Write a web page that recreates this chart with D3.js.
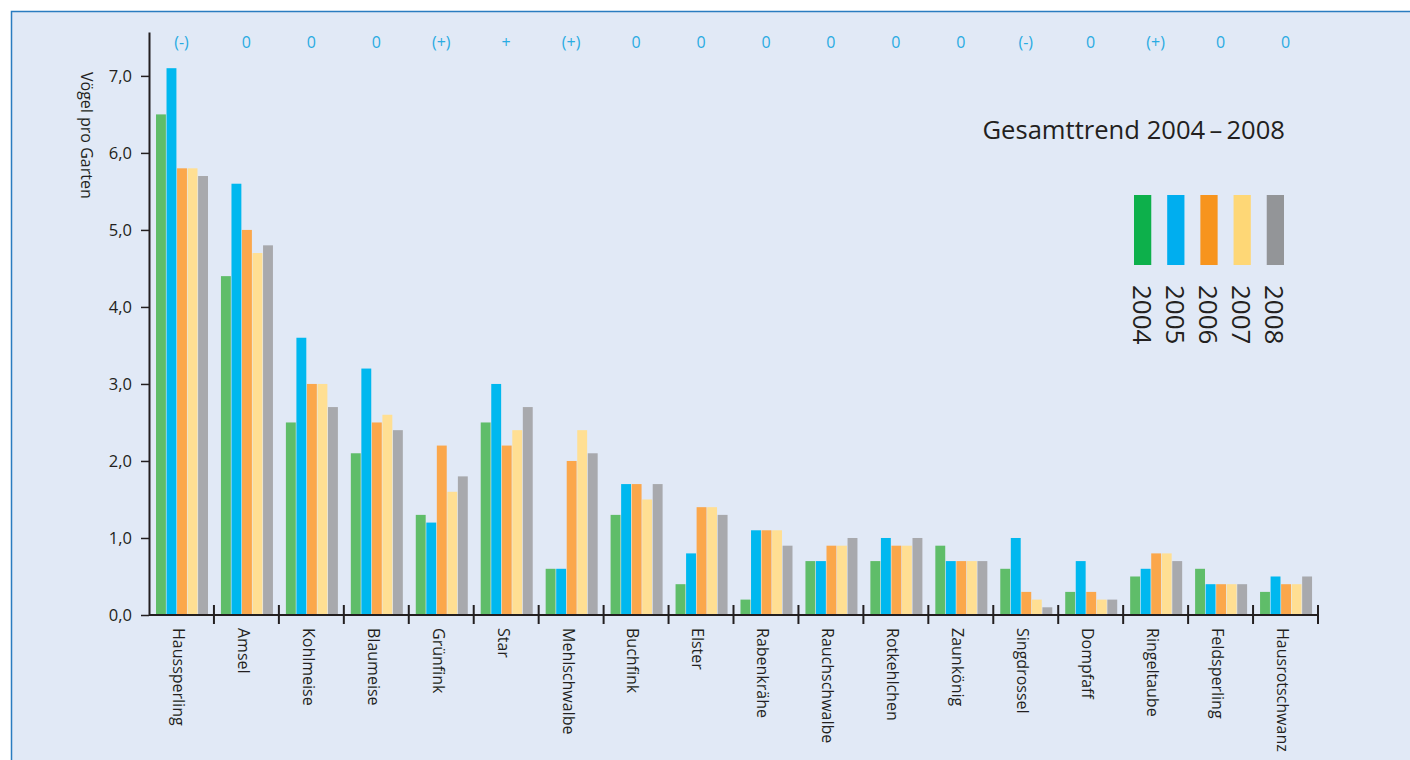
<!DOCTYPE html>
<html>
<head>
<meta charset="utf-8">
<script src="https://cdn.jsdelivr.net/npm/d3@7"></script>
<style>
    html, body { margin: 0; padding: 0; background: #fff; }
    svg { display: block; font-family: "Open Sans", sans-serif; }
</style>
</head>
<body>
<div id="chartPlaceholder"></div>
<script>
const categories = ['Haussperling', 'Amsel', 'Kohlmeise', 'Blaumeise', 'Grünfink', 'Star', 'Mehlschwalbe', 'Buchfink', 'Elster',
                    'Rabenkrähe', 'Rauchschwalbe', 'Rotkehlchen', 'Zaunkönig', 'Singdrossel', 'Dompfaff', 'Ringeltaube', 'Feldsperling', 'Hausrotschwanz'];
const trends = ['(-)', '0', '0', '0', '(+)', '+', '(+)', '0', '0', '0', '0', '0', '0', '(-)', '0', '(+)', '0', '0'];
const years = ['2004', '2005', '2006', '2007', '2008'];

const v2004 = [6.5, 4.4, 2.5, 2.1, 1.3, 2.5, 0.6, 1.3, 0.4, 0.2, 0.7, 0.7, 0.9, 0.6, 0.3, 0.5, 0.6, 0.3];
const v2005 = [7.1, 5.6, 3.6, 3.2, 1.2, 3.0, 0.6, 1.7, 0.8, 1.1, 0.7, 1.0, 0.7, 1.0, 0.7, 0.6, 0.4, 0.5];
const v2006 = [5.8, 5.0, 3.0, 2.5, 2.2, 2.2, 2.0, 1.7, 1.4, 1.1, 0.9, 0.9, 0.7, 0.3, 0.3, 0.8, 0.4, 0.4];
const v2007 = [5.8, 4.7, 3.0, 2.6, 1.6, 2.4, 2.4, 1.5, 1.4, 1.1, 0.9, 0.9, 0.7, 0.2, 0.2, 0.8, 0.4, 0.4];
const v2008 = [5.7, 4.8, 2.7, 2.4, 1.8, 2.7, 2.1, 1.7, 1.3, 0.9, 1.0, 1.0, 0.7, 0.1, 0.2, 0.7, 0.4, 0.5];
const yTicks = [0, 1, 2, 3, 4, 5, 6, 7];

const series = [v2004, v2005, v2006, v2007, v2008];
const barColors = ['#5fbd69', '#00b8ef', '#fba74b', '#ffdf93', '#a8a9ad'];
const legendColors = ['#0db04b', '#00aeef', '#f7941d', '#fed776', '#939598'];
const ink = '#231f20';
const trendColor = '#29abe2';

const W = 1410, H = 760;
const svg = d3.select('#chartPlaceholder')
              .append('svg')
              .attr('width', W)
              .attr('height', H);

// panel
svg.append('rect')
   .attr('x', 11.5).attr('y', 11.5)
   .attr('width', W).attr('height', H)
   .attr('fill', '#e1e9f6')
   .attr('stroke', '#2a7cc0')
   .attr('stroke-width', 1.5);

const x = d3.scaleBand()
            .domain(categories)
            .range([149, 1318])
            .padding(0);

const x1 = d3.scaleBand()
             .domain(years)
             .range([7, 59])
             .paddingInner(0.06);

const y = d3.scaleLinear()
            .domain([0, 7.57])
            .range([615, 32]);

const locale = d3.formatLocale({decimal: ',', thousands: '.', grouping: [3], currency: ['', '€']});
const fmt = locale.format('.1f');

// bars
const groups = svg.append('g').selectAll('g')
                  .data(categories)
                  .join('g')
                  .attr('transform', d => `translate(${x(d)},0)`);

groups.selectAll('rect')
      .data((d, i) => years.map((yr, k) => ({year: yr, k: k, value: series[k][i]})))
      .join('rect')
      .attr('x', d => x1(d.year))
      .attr('width', x1.bandwidth())
      .attr('y', d => y(d.value))
      .attr('height', d => y(0) - y(d.value))
      .attr('fill', d => barColors[d.k]);

// y axis
const yAxis = svg.append('g')
                 .attr('transform', 'translate(149,0)')
                 .call(d3.axisLeft(y).tickValues(yTicks).tickFormat(fmt).tickSize(8).tickSizeOuter(0).tickPadding(9));
yAxis.select('.domain').attr('stroke', ink).attr('stroke-width', 2);
yAxis.selectAll('.tick line').attr('stroke', ink).attr('stroke-width', 1.5);
yAxis.selectAll('.tick text')
     .attr('fill', ink)
     .style('font-size', '16.5px')
     .style('font-family', '"Open Sans", sans-serif');

svg.append('text')
   .attr('transform', 'translate(81,72) rotate(90)')
   .attr('fill', ink)
   .style('font-size', '16px')
   .text('Vögel pro Garten');

// x axis
svg.append('line')
   .attr('x1', x.range()[0]).attr('x2', x.range()[1])
   .attr('y1', y(0)).attr('y2', y(0))
   .attr('stroke', ink)
   .attr('stroke-width', 2);

svg.append('g').selectAll('line')
   .data(categories)
   .join('line')
   .attr('x1', d => x(d) + x.bandwidth())
   .attr('x2', d => x(d) + x.bandwidth())
   .attr('y1', y(0) - 10)
   .attr('y2', y(0) + 9)
   .attr('stroke', ink)
   .attr('stroke-width', 2);

svg.append('g').selectAll('text')
   .data(categories)
   .join('text')
   .attr('transform', d => `translate(${x(d) + x.bandwidth() / 2 - 3},628) rotate(90)`)
   .attr('dy', '0.35em')
   .attr('fill', ink)
   .style('font-size', '16px')
   .text(d => d);

// trend labels
svg.append('g').selectAll('text')
   .data(categories)
   .join('text')
   .attr('x', d => x(d) + x.bandwidth() / 2)
   .attr('y', 48)
   .attr('text-anchor', 'middle')
   .attr('fill', trendColor)
   .style('font-size', '16px')
   .text((d, i) => trends[i]);

// legend
svg.append('text')
   .attr('x', 1285)
   .attr('y', 139)
   .attr('text-anchor', 'end')
   .attr('fill', ink)
   .style('font-size', '25.6px')
   .text('Gesamttrend 2004\u2009\u2013\u20092008');

const legendX = d3.scaleBand()
                  .domain(years)
                  .range([1134, 1284])
                  .paddingInner(0.48);

svg.append('g').selectAll('rect')
   .data(years)
   .join('rect')
   .attr('x', d => legendX(d))
   .attr('y', 195)
   .attr('width', legendX.bandwidth())
   .attr('height', 70)
   .attr('fill', (d, i) => legendColors[i]);

svg.append('g').selectAll('text')
   .data(years)
   .join('text')
   .attr('transform', d => `translate(${legendX(d) + legendX.bandwidth() / 2 - 1},285) rotate(90)`)
   .attr('dy', '0.35em')
   .attr('fill', ink)
   .style('font-size', '26px')
   .text(d => d);
</script>
</body>
</html>
